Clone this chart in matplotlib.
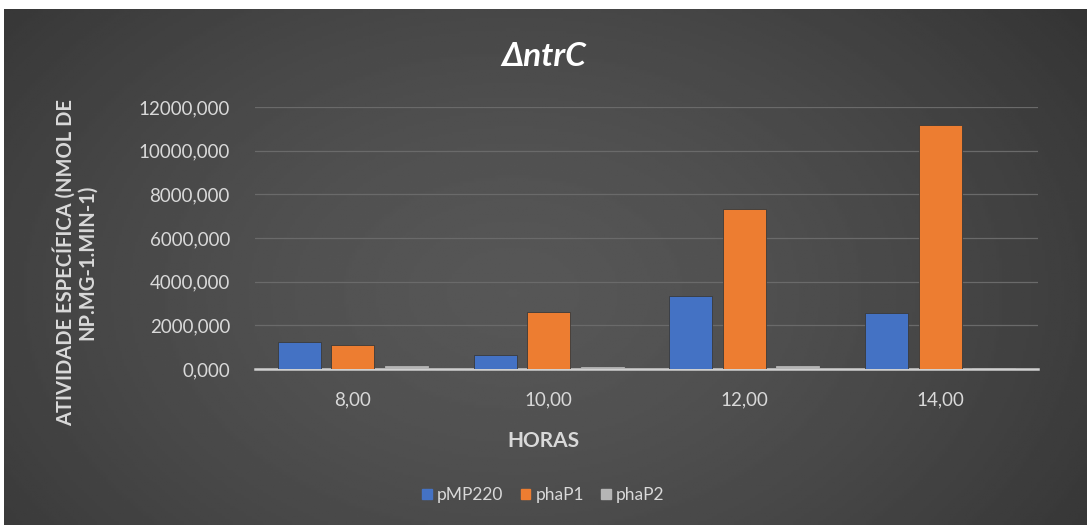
import matplotlib.pyplot as plt
import matplotlib.patches as mpatches
import numpy as np

# data
horas = ['8,00', '10,00', '12,00', '14,00']
pMP220 = [1220, 640, 3330, 2550]
phaP1 = [1080, 2620, 7350, 11180]
phaP2 = [120, 110, 120, 40]

series = [('pMP220', pMP220, '#4472C4'),
          ('phaP1', phaP1, '#ED7D31'),
          ('phaP2', phaP2, '#B5B5B5')]

plt.rcParams['font.family'] = ['Lato', 'DejaVu Sans']
TXT = '#D9D9D9'

fig = plt.figure(figsize=(10.87, 5.29), dpi=100, facecolor='white')

# dark panel with soft radial gradient
bg = fig.add_axes([4/1087, 4/529, 1083/1087, 516/529])
yy, xx = np.mgrid[0:1:200j, 0:1:400j]
r = np.sqrt(((xx - 0.47) / 0.9)**2 + ((yy - 0.55) / 1.3)**2)
shade = np.clip(0.34 - 0.22 * r**1.5, 0.15, 0.34)
bg.imshow(shade, cmap='gray', vmin=0, vmax=1, aspect='auto', extent=[0, 1, 0, 1])
bg.set_axis_off()

ax = fig.add_axes([255/1087, 1 - 369/529, 783/1087, 262/529])
ax.patch.set_alpha(0)

x = np.arange(len(horas))
w = 0.22
step = 0.273
for i, (name, vals, col) in enumerate(series):
    edge = '#3a3a3a' if i < 2 else col
    ax.bar(x + (i - 1) * step, vals, w, color=col, label=name, zorder=3,
           edgecolor=edge, linewidth=0.6)

ax.set_xlim(-0.5, len(horas) - 0.5)
ax.set_ylim(0, 12000)
ax.set_yticks(np.arange(0, 12001, 2000))
ax.set_yticklabels(['%d,000' % v for v in np.arange(0, 12001, 2000)])
ax.set_xticks(x)
ax.set_xticklabels(horas)
ax.tick_params(colors=TXT, labelsize=13.5, length=0)
ax.tick_params(axis='y', pad=18)
ax.tick_params(axis='x', pad=16)
ax.grid(axis='y', color='#6a6a6a', linewidth=0.9, zorder=0)
for s in ['top', 'right', 'left']:
    ax.spines[s].set_visible(False)
ax.spines['bottom'].set_color('#d0d0d0')
ax.spines['bottom'].set_linewidth(1.8)
ax.spines['bottom'].set_zorder(2)

fig.text(0.5, 1 - 57/529, 'Δ' + 'ntrC', color='white', fontsize=24,
         fontweight='bold', fontstyle='italic', ha='center', va='center')
fig.text(75/1087, 1 - 262/529, 'ATIVIDADE ESPECÍFICA (NMOL DE\nNP.MG-1.MIN-1)',
         color=TXT, fontsize=14.5, fontweight='bold', rotation=90,
         ha='center', va='center', linespacing=1.05)
fig.text(0.5, 1 - 441/529, 'HORAS', color=TXT, fontsize=15, fontweight='bold',
         ha='center', va='center')

handles = [mpatches.Patch(color=c, label=n) for n, v, c in series]
fig.legend(handles=handles, loc='center', bbox_to_anchor=(0.5, 1 - 495/529),
           ncol=3, frameon=False, fontsize=12.5, labelcolor=TXT,
           handlelength=0.55, handleheight=0.55, handletextpad=0.3,
           columnspacing=1.0)

plt.savefig('out.png', dpi=100, facecolor='white')
